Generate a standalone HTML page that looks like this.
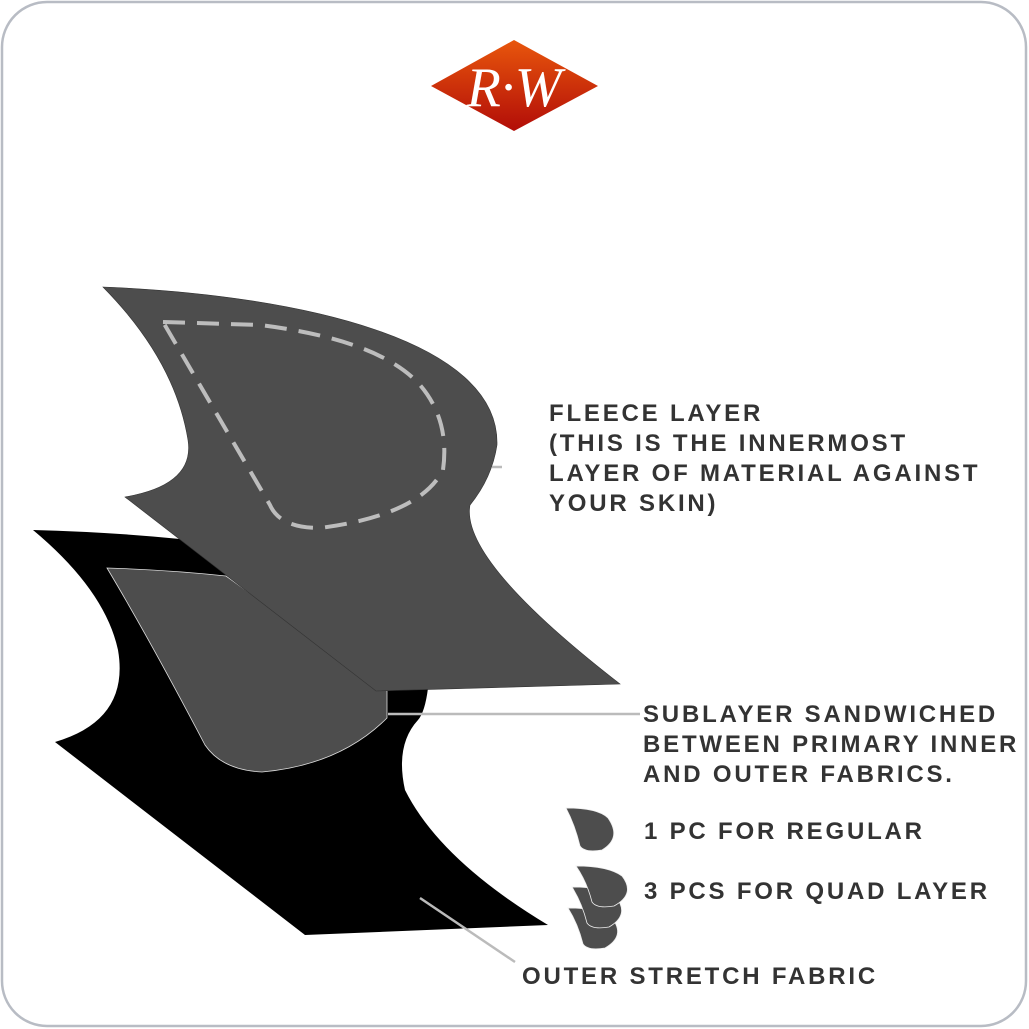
<!DOCTYPE html>
<html><head><style>
html,body{margin:0;padding:0;background:#fff;}
svg{display:block;}
text{font-family:"Liberation Sans",sans-serif;font-weight:bold;fill:#333;letter-spacing:2.8px;}
</style></head><body>
<svg width="1029" height="1029" viewBox="0 0 1029 1029" xmlns="http://www.w3.org/2000/svg">
<defs>
<linearGradient id="lg" x1="0" y1="0" x2="0" y2="1">
<stop offset="0" stop-color="#e8560c"/><stop offset="1" stop-color="#b20d08"/>
</linearGradient>
</defs>
<rect x="2" y="2" width="1024" height="1024" rx="45" fill="#fff" stroke="#b8bcc4" stroke-width="2.5"/>
<!-- logo -->
<polygon points="431,86 514,40 598,86 514,131" fill="url(#lg)"/>
<text x="514" y="106" text-anchor="middle" style="font-family:'Liberation Serif',serif;font-style:italic;font-weight:normal;font-size:56px;fill:#fff;letter-spacing:0">R·W</text>

<!-- black outer -->
<path d="M33,530 Q110,532 180,539 L428,688 Q425,712 418,720 Q395,745 405,790 Q440,860 548,925 L305,935 L55,742 Q130,720 118,650 Q105,590 33,530 Z" fill="#000"/>
<!-- sublayer -->
<path d="M107,568 Q170,570 226,576 L387,691 L387,718 Q340,765 262,772 Q222,770 205,745 Q150,640 107,568 Z" fill="#4d4d4d" stroke="#ddd" stroke-width="0.8"/>
<!-- fleece -->
<path d="M103,287 C300,295 500,340 497,445 Q492,478 470,505 Q460,560 620,684 L376,691 L125,497 Q195,485 188,440 Q175,360 103,287 Z" fill="#4d4d4d" stroke="#333" stroke-width="0.6"/>
<path d="M163,322 L260,325 Q380,340 420,385 Q450,420 443,470 Q420,515 320,528 Q280,528 270,505 L163,322" fill="none" stroke="#bdbdbd" stroke-width="4" stroke-dasharray="22,12"/>

<!-- leaders -->
<line x1="492" y1="467" x2="502" y2="467" stroke="#bbb" stroke-width="2.5"/>
<line x1="388" y1="714" x2="640" y2="714" stroke="#bbb" stroke-width="2.5"/>
<line x1="420" y1="898" x2="515" y2="962" stroke="#bbb" stroke-width="2.5"/>

<!-- small pieces -->
<g fill="#4d4d4d" stroke="#eee" stroke-width="0.8">
<path d="M566,808 Q598,808 608,818 Q622,838 602,850 Q585,853 580,846 Q575,825 566,808 Z"/>
<path d="M568,908 Q600,908 612,918 Q626,936 605,948 Q588,951 583,944 Q578,924 568,908 Z"/>
<path d="M572,887 Q604,887 616,897 Q630,915 609,927 Q592,930 587,923 Q582,903 572,887 Z"/>
<path d="M576,866 Q608,866 622,876 Q636,894 614,906 Q597,909 592,902 Q587,882 576,866 Z"/>
</g>

<!-- labels -->
<g font-size="24">
<text x="549" y="421">FLEECE LAYER</text>
<text x="549" y="451">(THIS IS THE INNERMOST</text>
<text x="549" y="481">LAYER OF MATERIAL AGAINST</text>
<text x="549" y="511">YOUR SKIN)</text>
<text x="643" y="722">SUBLAYER SANDWICHED</text>
<text x="643" y="752">BETWEEN PRIMARY INNER</text>
<text x="643" y="782">AND OUTER FABRICS.</text>
<text x="644" y="839">1 PC FOR REGULAR</text>
<text x="644" y="899">3 PCS FOR QUAD LAYER</text>
<text x="522" y="984">OUTER STRETCH FABRIC</text>
</g>
</svg>
</body></html>
